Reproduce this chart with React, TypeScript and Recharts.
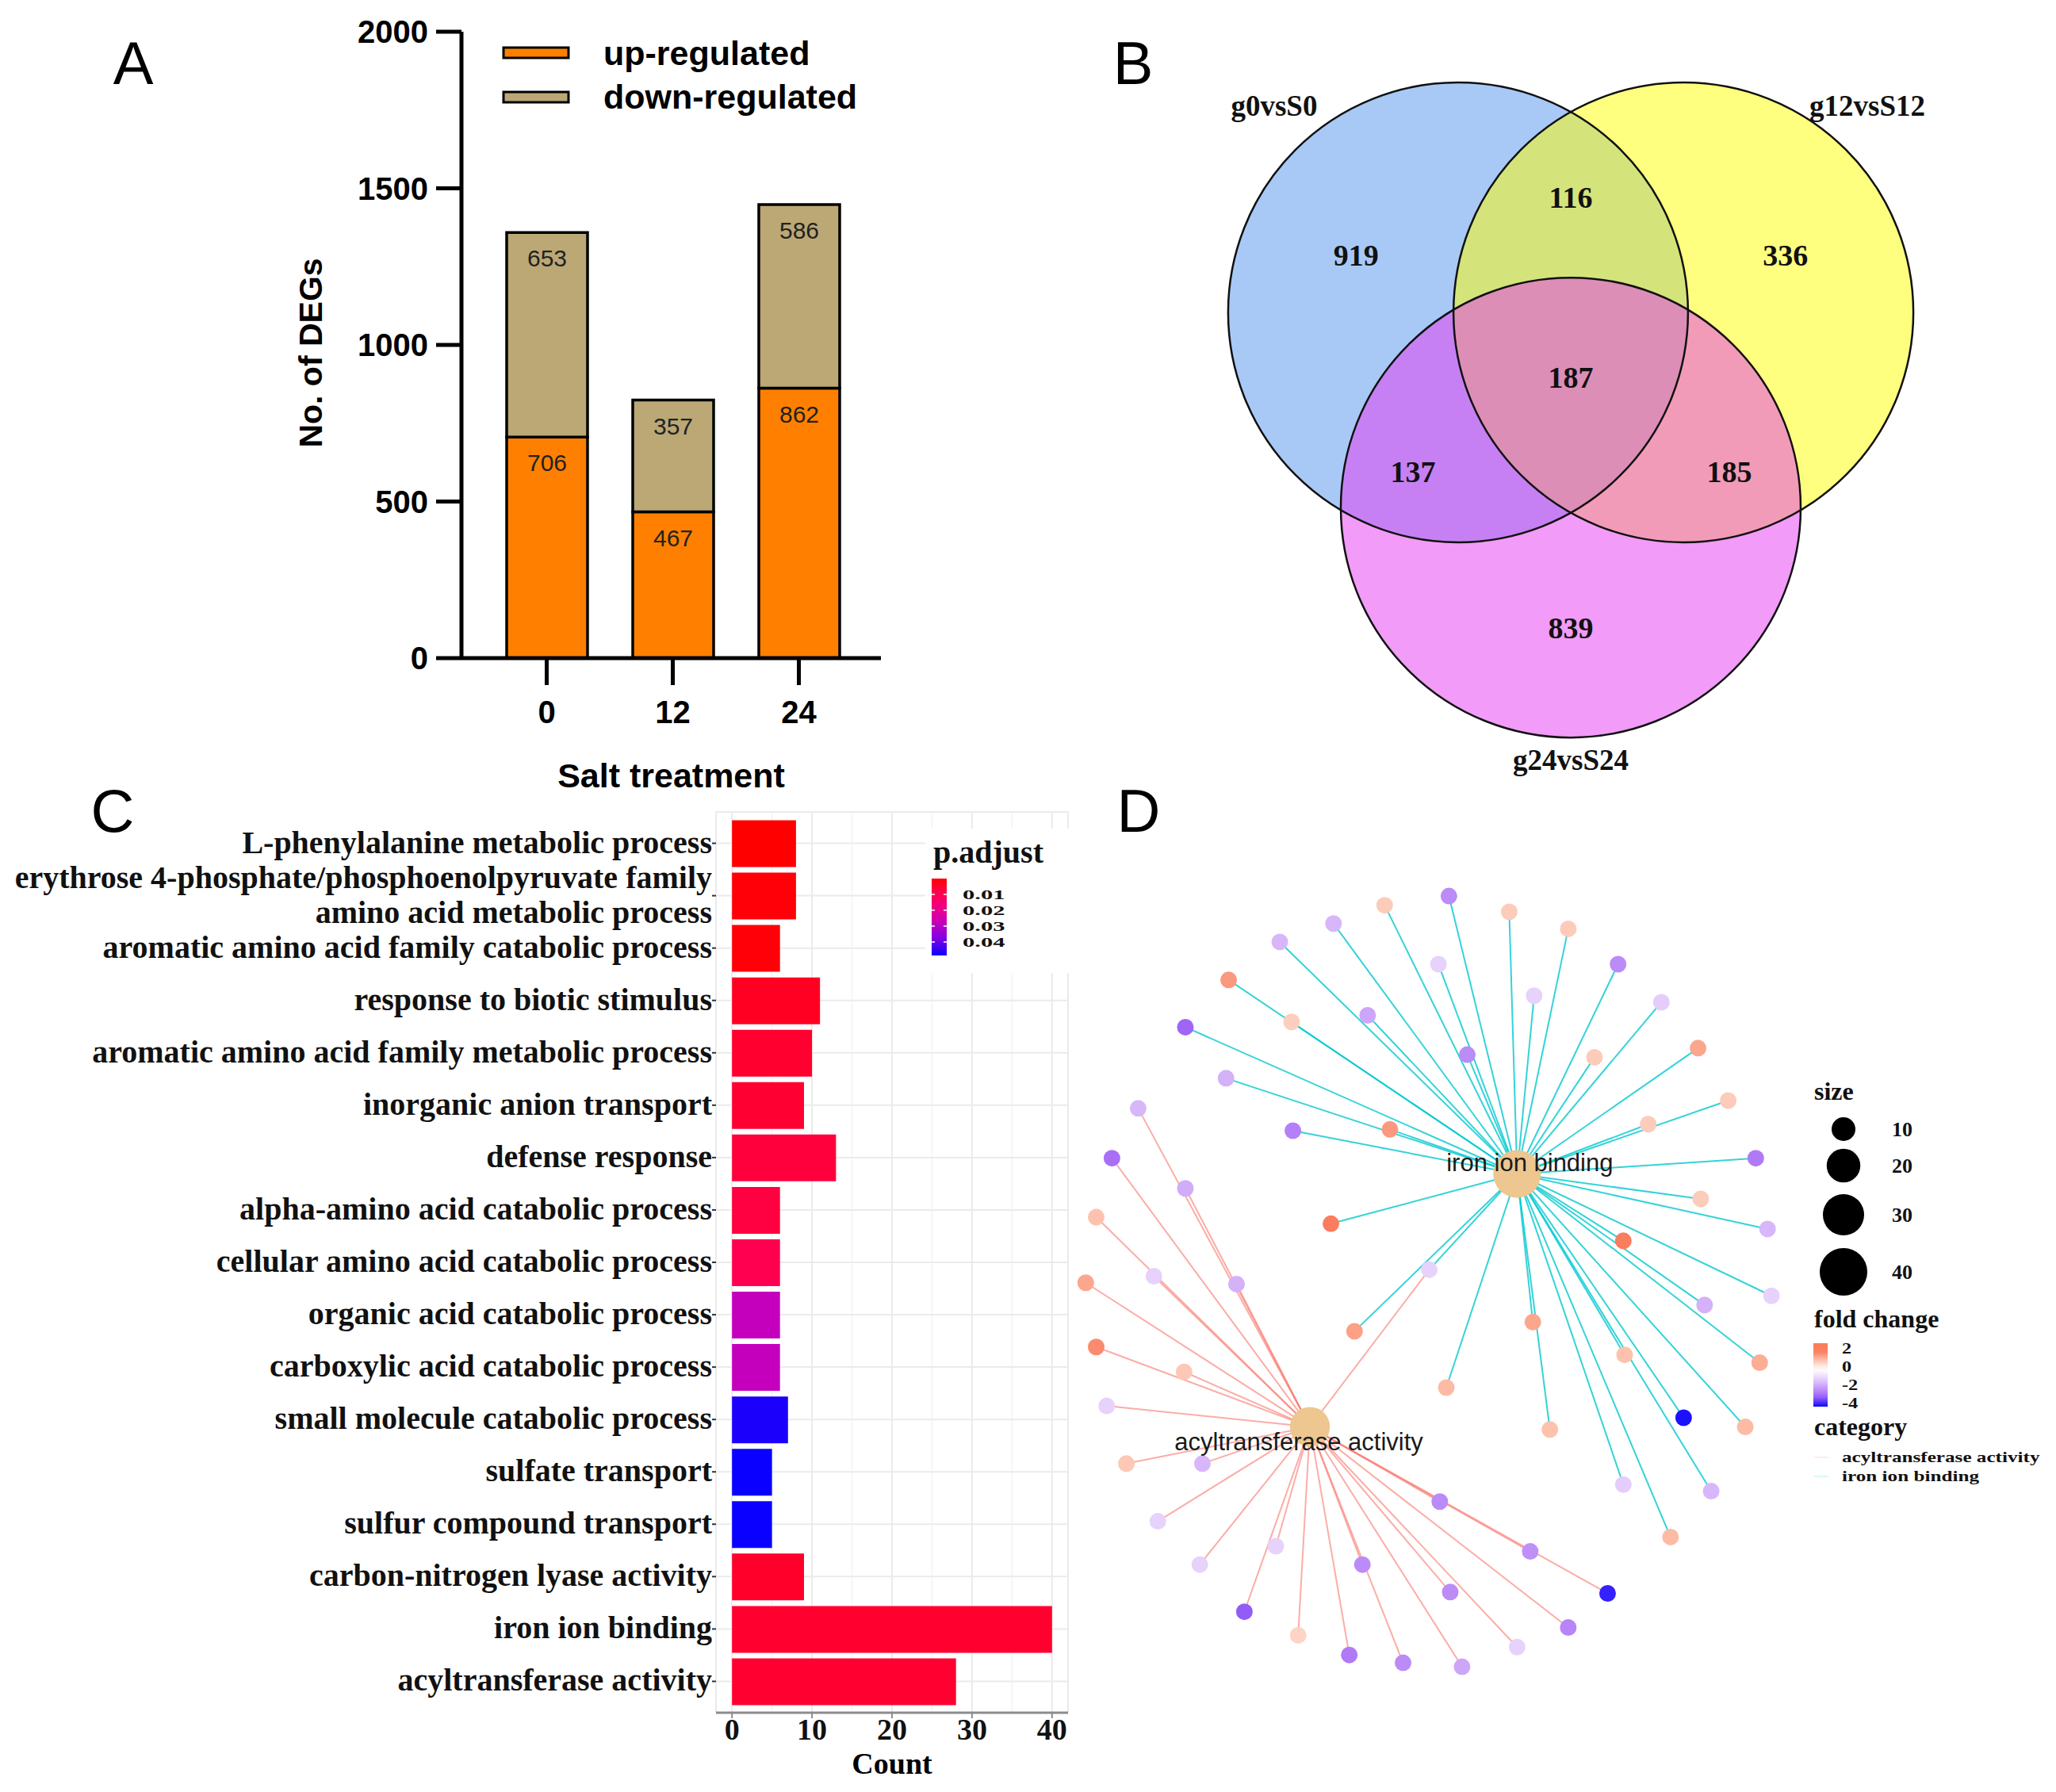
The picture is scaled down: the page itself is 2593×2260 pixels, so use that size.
import React from 'react';
import {
  BarChart,
  Bar,
  XAxis,
  YAxis,
  CartesianGrid,
  Cell,
  LabelList,
  Legend,
  ScatterChart,
  Scatter,
} from 'recharts';

const SANS = '"Liberation Sans", Arial, Helvetica, sans-serif';
const SERIF = '"Liberation Serif", "Times New Roman", serif';

// ---- A: number of DEGs per salt treatment time ----
const saltHours = ['0', '12', '24'];
const upRegulated = [706, 467, 862];
const downRegulated = [653, 357, 586];

// ---- B: Venn counts ----
const vennSetNames = ['g0vsS0', 'g12vsS12', 'g24vsS24'];
const vennCounts = [919, 116, 336, 187, 137, 185, 839];

// ---- C: GO enrichment ----
const goTerms = [
  'L-phenylalanine metabolic process',
  'erythrose 4-phosphate/phosphoenolpyruvate family\namino acid metabolic process',
  'aromatic amino acid family catabolic process',
  'response to biotic stimulus',
  'aromatic amino acid family metabolic process',
  'inorganic anion transport',
  'defense response',
  'alpha-amino acid catabolic process',
  'cellular amino acid catabolic process',
  'organic acid catabolic process',
  'carboxylic acid catabolic process',
  'small molecule catabolic process',
  'sulfate transport',
  'sulfur compound transport',
  'carbon-nitrogen lyase activity',
  'iron ion binding',
  'acyltransferase activity',
];
const goCounts = [8, 8, 6, 11, 10, 9, 13, 6, 6, 6, 6, 7, 5, 5, 9, 40, 28];
const goPAdjust = [
  0.00002, 0.0008, 0.0009, 0.0035, 0.0048, 0.0052, 0.0067, 0.0073, 0.0097,
  0.0281, 0.0281, 0.047, 0.0485, 0.0485, 0.0044, 0.0048, 0.005,
];
const pAdjustBreaks = [0.01, 0.02, 0.03, 0.04];

// ---- D: gene-concept network (layout coordinates, fold change) ----
const hubTerms = ['iron ion binding', 'acyltransferase activity'];
const hubCounts = [40, 28];
const hubLayoutX = [1157, 999];
const hubLayoutY = [895, 1088];
const ironGenes = [
  [1056, 690, 0.85], [1105, 683, -2.3], [1151, 695, 0.85], [1196, 708, 0.85],
  [1017, 704, -1.5], [976, 718, -1.5], [937, 747, 1.6], [985, 779, 0.8],
  [1043, 774, -1.8], [904, 783, -3.0], [1097, 735, -1.0], [1119, 804, -2.3],
  [1170, 759, -1.0], [1234, 735, -2.3], [1267, 764, -1.1], [1216, 806, 0.85],
  [1295, 799, 1.4], [1257, 857, 0.85], [1318, 839, 0.85], [1339, 883, -2.6],
  [1297, 914, 0.85], [1348, 937, -1.5], [1238, 946, 2.0], [1300, 995, -1.6],
  [1351, 988, -1.0], [1342, 1039, 1.3], [1239, 1033, 1.0], [1284, 1081, -4.0],
  [1331, 1088, 1.1], [1305, 1137, -1.5], [1274, 1172, 1.1], [1238, 1132, -1.1],
  [1182, 1090, 1.0], [1169, 1008, 1.4], [1103, 1058, 1.1], [1033, 1015, 1.5],
  [1015, 933, 2.0], [1060, 861, 1.6], [986, 862, -2.5], [935, 822, -1.6],
];
const acylGenes = [
  [868, 845, -1.5], [848, 883, -2.8], [904, 906, -1.7], [836, 928, 1.0],
  [880, 973, -1.0], [943, 979, -1.6], [828, 978, 1.4], [836, 1027, 1.8],
  [903, 1046, 0.9], [844, 1072, -1.0], [859, 1116, 0.9], [917, 1116, -1.5],
  [1098, 1145, -2.3], [883, 1160, -1.0], [973, 1179, -1.0], [915, 1193, -1.0],
  [1167, 1183, -2.2], [1039, 1193, -2.3], [1106, 1214, -2.3], [949, 1229, -3.1],
  [990, 1247, 0.7], [1029, 1262, -2.6], [1070, 1268, -2.3], [1115, 1271, -1.8],
  [1157, 1256, -1.0], [1226, 1215, -3.8], [1196, 1241, -2.4],
];
const sharedGenes = [[1090, 968, -1.0]];
const sizeBreaks = [10, 20, 30, 40];
const foldBreaks = [2, 0, -2, -4];

// ---- colour helpers ----
const hexToRgb = (h: string) => [
  parseInt(h.slice(1, 3), 16),
  parseInt(h.slice(3, 5), 16),
  parseInt(h.slice(5, 7), 16),
];
const ramp = (stops: [number, string][], v: number) => {
  if (v <= stops[0][0]) return stops[0][1];
  for (let i = 1; i < stops.length; i++) {
    if (v <= stops[i][0]) {
      const [v0, c0] = stops[i - 1];
      const [v1, c1] = stops[i];
      const t = (v - v0) / (v1 - v0);
      const a = hexToRgb(c0);
      const b = hexToRgb(c1);
      return `rgb(${a.map((x, k) => Math.round(x + (b[k] - x) * t)).join(',')})`;
    }
  }
  return stops[stops.length - 1][1];
};

const P_STOPS: [number, string][] = [
  [0, '#FF0000'], [0.1, '#FF0030'], [0.2, '#FF0050'], [0.4, '#EB008C'],
  [0.58, '#C400BC'], [0.8, '#7800E6'], [1, '#0A00FF'],
];
const P_MIN = Math.min(...goPAdjust);
const P_MAX = Math.max(...goPAdjust);
const pT = (p: number) => (p - P_MIN) / (P_MAX - P_MIN);
const pColor = (p: number) => ramp(P_STOPS, pT(p));

const FC_STOPS: [number, string][] = [
  [-4.2, '#0000FF'], [-3, '#A064F6'], [-2, '#C79BF8'], [-1, '#E7D2FB'],
  [0, '#FFFFFF'], [1, '#FDC2AE'], [2, '#FA7D5E'],
];
const fcColor = (fc: number) => ramp(FC_STOPS, fc);
const FC_TOP = 2.9;
const FC_BOTTOM = -4.1;

const hubRadius = (count: number) => 4.75 * Math.sqrt(count);

// ---- shared label component ----
const AxisTitle = (props: any) => {
  const { viewBox, text, dx = 0, dy = 0, vertical, fontFamily, fontSize } = props;
  if (!viewBox) return null;
  const x = viewBox.x + viewBox.width / 2 + dx;
  const y = vertical ? viewBox.y + viewBox.height / 2 + dy : viewBox.y + dy;
  return (
    <text
      x={x}
      y={y}
      textAnchor="middle"
      dominantBaseline="central"
      transform={vertical ? `rotate(-90, ${x}, ${y})` : undefined}
      fontFamily={fontFamily}
      fontWeight={700}
      fontSize={fontSize}
      fill="#000"
    >
      {text}
    </text>
  );
};

// ================= A =================
const degData = saltHours.map((h, i) => ({ hour: h, up: upRegulated[i], down: downRegulated[i] }));
const degOrder = ['up', 'down'];

const DegLegend = (props: any) => {
  const items = [...(props.payload || [])].sort(
    (a: any, b: any) => degOrder.indexOf(a.dataKey) - degOrder.indexOf(b.dataKey)
  );
  return (
    <svg width={500} height={110} style={{ overflow: 'visible' }}>
      {items.map((it: any, i: number) => (
        <g key={i}>
          <rect x={5} y={20 + i * 56} width={82} height={13} fill={it.color} stroke="#000" strokeWidth={3} />
          <text x={131} y={27 + i * 55} dominantBaseline="central" fontFamily={SANS} fontWeight={700} fontSize={43} fill="#000">
            {it.value}
          </text>
        </g>
      ))}
    </svg>
  );
};

function DegChart() {
  const tickFont = { fontFamily: SANS, fontWeight: 700, fontSize: 40, fill: '#000' };
  return (
    <BarChart width={1150} height={1010} data={degData} margin={{ top: 40, right: 39, bottom: 0, left: 202 }}>
      <XAxis
        dataKey="hour"
        height={180}
        padding={{ left: 28, right: 24 }}
        axisLine={{ stroke: '#000', strokeWidth: 5 }}
        tickLine={{ stroke: '#000', strokeWidth: 5 }}
        tickSize={34}
        tickMargin={20}
        tick={tickFont}
        label={<AxisTitle text="Salt treatment" dy={148} fontFamily={SANS} fontSize={43} />}
      />
      <YAxis
        width={380}
        domain={[0, 2000]}
        ticks={[0, 500, 1000, 1500, 2000]}
        axisLine={{ stroke: '#000', strokeWidth: 5 }}
        tickLine={{ stroke: '#000', strokeWidth: 5 }}
        tickSize={32}
        tickMargin={10}
        tick={tickFont}
        label={<AxisTitle text="No. of DEGs" vertical dy={10} fontFamily={SANS} fontSize={41} />}
      />
      <Bar dataKey="up" name="up-regulated" stackId="deg" fill="#FF8000" stroke="#000" strokeWidth={3.5} barSize={102} isAnimationActive={false}>
        <LabelList dataKey="up" position="insideTop" offset={22} fill="#222" fontSize={30} fontFamily={SANS} />
      </Bar>
      <Bar dataKey="down" name="down-regulated" stackId="deg" fill="#BBA875" stroke="#000" strokeWidth={3.5} barSize={102} isAnimationActive={false}>
        <LabelList dataKey="down" position="insideTop" offset={22} fill="#222" fontSize={30} fontFamily={SANS} />
      </Bar>
      <Legend
        layout="vertical"
        align="center"
        verticalAlign="middle"
        content={<DegLegend />}
        wrapperStyle={{ left: 630, top: 40, width: 500, height: 110 }}
      />
    </BarChart>
  );
}

// ================= B =================
const VENN_W = 1160;
const VENN_H = 1044;
const VENN_UNIT = VENN_W / 4; // px per layout unit (circle radius = 1)
const vennLayout = {
  circles: [[-0.49, 0.283], [0.49, 0.283], [0, -0.566]],
  regions: [[-0.934, 0.53], [0, 0.783], [0.934, 0.53], [0, 0], [-0.686, -0.412], [0.69, -0.412], [0, -1.09]],
  names: [[-1.29, 1.18], [1.29, 1.18], [0, -1.665]],
};
const vennFills = ['#5193ED', '#FFFF00', '#E537F1'];

const vennCircleData = vennSetNames.map((name, i) => ({
  x: vennLayout.circles[i][0],
  y: vennLayout.circles[i][1],
  name,
  fill: vennFills[i],
}));
const vennCountData = vennCounts.map((c, i) => ({ x: vennLayout.regions[i][0], y: vennLayout.regions[i][1], label: String(c) }));
const vennNameData = vennSetNames.map((n, i) => ({ x: vennLayout.names[i][0], y: vennLayout.names[i][1], label: n }));

const VennFill = (p: any) => <circle cx={p.cx} cy={p.cy} r={VENN_UNIT} fill={p.payload.fill} fillOpacity={0.5} />;
const VennStroke = (p: any) => <circle cx={p.cx} cy={p.cy} r={VENN_UNIT} fill="none" stroke="#111" strokeWidth={2.5} />;
const vennText = (size: number) => (p: any) => (
  <text x={p.cx} y={p.cy} textAnchor="middle" dominantBaseline="central" fontFamily={SERIF} fontWeight={700} fontSize={size} fill="#111">
    {p.payload.label}
  </text>
);

function VennChart() {
  return (
    <ScatterChart width={VENN_W} height={VENN_H} margin={{ top: 0, right: 0, bottom: 0, left: 0 }}>
      <XAxis type="number" dataKey="x" domain={[-2, 2]} hide allowDataOverflow />
      <YAxis type="number" dataKey="y" domain={[-2, 1.6]} hide allowDataOverflow />
      <Scatter data={vennCircleData} shape={VennFill} isAnimationActive={false} />
      <Scatter data={vennCircleData} shape={VennStroke} isAnimationActive={false} />
      <Scatter data={vennCountData} shape={vennText(38)} isAnimationActive={false} />
      <Scatter data={vennNameData} shape={vennText(37)} isAnimationActive={false} />
    </ScatterChart>
  );
}

// ================= C =================
const goData = goTerms.map((term, i) => ({ term, count: goCounts[i], p: goPAdjust[i] }));

const TermTick = (props: any) => {
  const { x, y, payload } = props;
  const lines = String(payload.value).split('\n');
  const lh = 44;
  const y0 = y - ((lines.length - 1) * lh) / 2;
  return (
    <text x={x} y={y0} textAnchor="end" fontFamily={SERIF} fontWeight={700} fontSize={40} fill="#111">
      {lines.map((l, i) => (
        <tspan key={i} x={x} y={y0 + i * lh} dy="0.3em">
          {l}
        </tspan>
      ))}
    </text>
  );
};

const PAdjustLegend = () => {
  const barTop = 63;
  const barH = 97;
  const stops = Array.from({ length: 11 }, (_, i) => i / 10);
  return (
    <svg width={184} height={182} style={{ overflow: 'visible' }}>
      <defs>
        <linearGradient id="pgrad" x1="0" y1="0" x2="0" y2="1">
          {stops.map((t) => (
            <stop key={t} offset={t} stopColor={ramp(P_STOPS, t)} />
          ))}
        </linearGradient>
      </defs>
      <text x={10} y={29} dominantBaseline="central" fontFamily={SERIF} fontWeight={700} fontSize={40} fill="#111">
        p.adjust
      </text>
      <rect x={8} y={barTop} width={19} height={barH} fill="url(#pgrad)" />
      {pAdjustBreaks.map((b) => {
        const yy = barTop + pT(b) * barH;
        return (
          <g key={b}>
            <line x1={8} x2={12} y1={yy} y2={yy} stroke="#fff" strokeWidth={1.5} />
            <line x1={23} x2={27} y1={yy} y2={yy} stroke="#fff" strokeWidth={1.5} />
            <text
              transform={`translate(47, ${yy}) scale(1.8, 1)`}
              dominantBaseline="central"
              fontFamily={SERIF}
              fontWeight={700}
              fontSize={17}
              fill="#111"
            >
              {b.toFixed(2)}
            </text>
          </g>
        );
      })}
    </svg>
  );
};

function GoChart() {
  return (
    <BarChart layout="vertical" width={1360} height={1270} data={goData} margin={{ top: 34, right: 13, bottom: 0, left: 0 }}>
      <CartesianGrid horizontal={false} verticalValues={[5, 15, 25, 35]} stroke="#F3F3F3" strokeWidth={1.5} />
      <CartesianGrid stroke="#EBEBEB" strokeWidth={2} />
      <XAxis
        type="number"
        domain={[-2, 42]}
        ticks={[0, 10, 20, 30, 40]}
        allowDataOverflow
        height={100}
        axisLine={{ stroke: '#8C8C8C', strokeWidth: 3 }}
        tickLine={{ stroke: '#8C8C8C', strokeWidth: 2 }}
        tickSize={7}
        tickMargin={0}
        tick={{ fontFamily: SERIF, fontWeight: 700, fontSize: 38, fill: '#111' }}
        label={<AxisTitle text="Count" dy={64} fontFamily={SERIF} fontSize={38} />}
      />
      <XAxis
        xAxisId="top"
        orientation="top"
        type="number"
        domain={[-2, 42]}
        allowDataOverflow
        height={0}
        tick={false}
        tickLine={false}
        axisLine={{ stroke: '#8C8C8C', strokeWidth: 3 }}
      />
      <YAxis
        type="category"
        dataKey="term"
        width={903}
        interval={0}
        padding={{ top: 6.5, bottom: 6.5 }}
        axisLine={false}
        tickLine={{ stroke: '#333', strokeWidth: 2 }}
        tickSize={5}
        tickMargin={0}
        tick={<TermTick />}
      />
      <Bar dataKey="count" barSize={59} isAnimationActive={false}>
        {goData.map((d, i) => (
          <Cell key={i} fill={pColor(d.p)} />
        ))}
      </Bar>
      <Legend
        layout="vertical"
        align="center"
        verticalAlign="middle"
        content={<PAdjustLegend />}
        wrapperStyle={{ left: 1167, top: 55, width: 184, height: 182, background: '#fff' }}
      />
    </BarChart>
  );
}

// ================= D =================
const NET_X: [number, number] = [800, 1568];
const NET_Y: [number, number] = [640, 1300];
const NET_SCALE = 1.6536;
const NET_W = Math.round((NET_X[1] - NET_X[0]) * NET_SCALE);
const NET_H = Math.round((NET_Y[1] - NET_Y[0]) * NET_SCALE);
const EDGE_COLORS = ['#00C8D0', '#F8766D'];
const EDGE_OPACITY = [0.8, 0.6];
const HUB_LABEL_OFFSET = [[16, -14], [-14, 19]];

const geneNodes = [
  ...ironGenes.map(([x, y, fc]) => ({ x, y, fc, hubs: [0] })),
  ...acylGenes.map(([x, y, fc]) => ({ x, y, fc, hubs: [1] })),
  ...sharedGenes.map(([x, y, fc]) => ({ x, y, fc, hubs: [0, 1] })),
];
const hubNodes = hubTerms.map((term, i) => ({ x: hubLayoutX[i], y: hubLayoutY[i], term, count: hubCounts[i], idx: i }));
const edges = geneNodes.flatMap((g) =>
  g.hubs.map((h) => ({ hub: h, pts: [{ x: hubNodes[h].x, y: hubNodes[h].y }, { x: g.x, y: g.y }] }))
);

const NoDot = () => <g />;
const GeneDot = (p: any) => <circle cx={p.cx} cy={p.cy} r={10.5} fill={fcColor(p.payload.fc)} />;
const HubDot = (p: any) => <circle cx={p.cx} cy={p.cy} r={hubRadius(p.payload.count)} fill="#EDC690" />;
const HubLabel = (p: any) => {
  const [dx, dy] = HUB_LABEL_OFFSET[p.payload.idx];
  return (
    <text x={p.cx + dx} y={p.cy + dy} textAnchor="middle" dominantBaseline="central" fontFamily={SANS} fontSize={31} fill="#1A1A1A">
      {p.payload.term}
    </text>
  );
};

const NetLegend = () => {
  const sizeY = [84, 130, 192, 264];
  const barTop = 354;
  const barH = 80;
  const fy = (v: number) => barTop - 3 + ((FC_TOP - v) / (FC_TOP - FC_BOTTOM)) * barH;
  const gradStops = Array.from({ length: 15 }, (_, i) => FC_TOP - (i / 14) * (FC_TOP - FC_BOTTOM));
  const title = { fontFamily: SERIF, fontWeight: 700, fontSize: 32, fill: '#111' };
  const small = { fontFamily: SERIF, fontWeight: 700, fontSize: 26, fill: '#111' };
  const squeezed = { fontFamily: SERIF, fontWeight: 700, fontSize: 18, fill: '#111' };
  return (
    <svg width={313} height={540} style={{ overflow: 'visible' }}>
      <defs>
        <linearGradient id="fcgrad" x1="0" y1="0" x2="0" y2="1">
          {gradStops.map((v, i) => (
            <stop key={i} offset={i / 14} stopColor={fcColor(v)} />
          ))}
        </linearGradient>
      </defs>
      <text x={8} y={36} dominantBaseline="central" {...title}>size</text>
      {sizeBreaks.map((s, i) => (
        <g key={s}>
          <circle cx={45} cy={sizeY[i]} r={hubRadius(s)} fill="#000" />
          <text x={106} y={sizeY[i]} dominantBaseline="central" {...small}>{s}</text>
        </g>
      ))}
      <text x={8} y={323} dominantBaseline="central" {...title}>fold change</text>
      <rect x={7} y={barTop} width={18} height={barH} fill="url(#fcgrad)" />
      {foldBreaks.map((b) => (
        <text key={b} transform={`translate(43, ${fy(b)}) scale(1.35, 1)`} dominantBaseline="central" {...squeezed}>
          {b}
        </text>
      ))}
      <text x={8} y={459} dominantBaseline="central" {...title}>category</text>
      {[1, 0].map((h, i) => (
        <g key={h}>
          <line x1={8} x2={26} y1={498 + i * 24} y2={498 + i * 24} stroke={EDGE_COLORS[h]} strokeOpacity={0.15} strokeWidth={2} />
          <text transform={`translate(43, ${498 + i * 24}) scale(1.4, 1)`} dominantBaseline="central" {...squeezed}>
            {hubTerms[h]}
          </text>
        </g>
      ))}
    </svg>
  );
};

function NetChart() {
  return (
    <ScatterChart width={NET_W} height={NET_H} margin={{ top: 0, right: 0, bottom: 0, left: 0 }}>
      <XAxis type="number" dataKey="x" domain={NET_X} hide allowDataOverflow />
      <YAxis type="number" dataKey="y" domain={NET_Y} reversed hide allowDataOverflow />
      {edges.map((e, i) => (
        <Scatter
          key={`e${i}`}
          data={e.pts}
          line={{ stroke: EDGE_COLORS[e.hub], strokeWidth: 2, strokeOpacity: EDGE_OPACITY[e.hub] }}
          shape={NoDot}
          legendType="none"
          isAnimationActive={false}
        />
      ))}
      <Scatter data={geneNodes} shape={GeneDot} legendType="none" isAnimationActive={false} />
      <Scatter data={hubNodes} shape={HubDot} legendType="none" isAnimationActive={false} />
      <Scatter data={hubNodes} shape={HubLabel} legendType="none" isAnimationActive={false} />
      <Legend
        layout="vertical"
        align="center"
        verticalAlign="middle"
        content={<NetLegend />}
        wrapperStyle={{ left: 957, top: 281, width: 313, height: 540 }}
      />
    </ScatterChart>
  );
}

// ================= page =================
const panelLetters = [
  { t: 'A', x: 168, y: 79 },
  { t: 'B', x: 1429, y: 79 },
  { t: 'C', x: 142, y: 1022 },
  { t: 'D', x: 1436, y: 1022 },
];

export default function App() {
  return (
    <div style={{ position: 'absolute', left: 0, top: 0, width: 2593, height: 2260, background: '#fff', overflow: 'hidden', fontFamily: SANS }}>
      <div style={{ position: 'absolute', left: 0, top: 0 }}>
        <DegChart />
      </div>
      <div style={{ position: 'absolute', left: 1401, top: 12 }}>
        <VennChart />
      </div>
      <div style={{ position: 'absolute', left: 0, top: 990 }}>
        <GoChart />
      </div>
      <div style={{ position: 'absolute', left: 1323, top: 1059 }}>
        <NetChart />
      </div>
      <svg width={2593} height={2260} style={{ position: 'absolute', left: 0, top: 0, pointerEvents: 'none' }}>
        {panelLetters.map((l) => (
          <text key={l.t} x={l.x} y={l.y} textAnchor="middle" dominantBaseline="central" fontFamily={SANS} fontSize={76} fill="#000">
            {l.t}
          </text>
        ))}
      </svg>
    </div>
  );
}
